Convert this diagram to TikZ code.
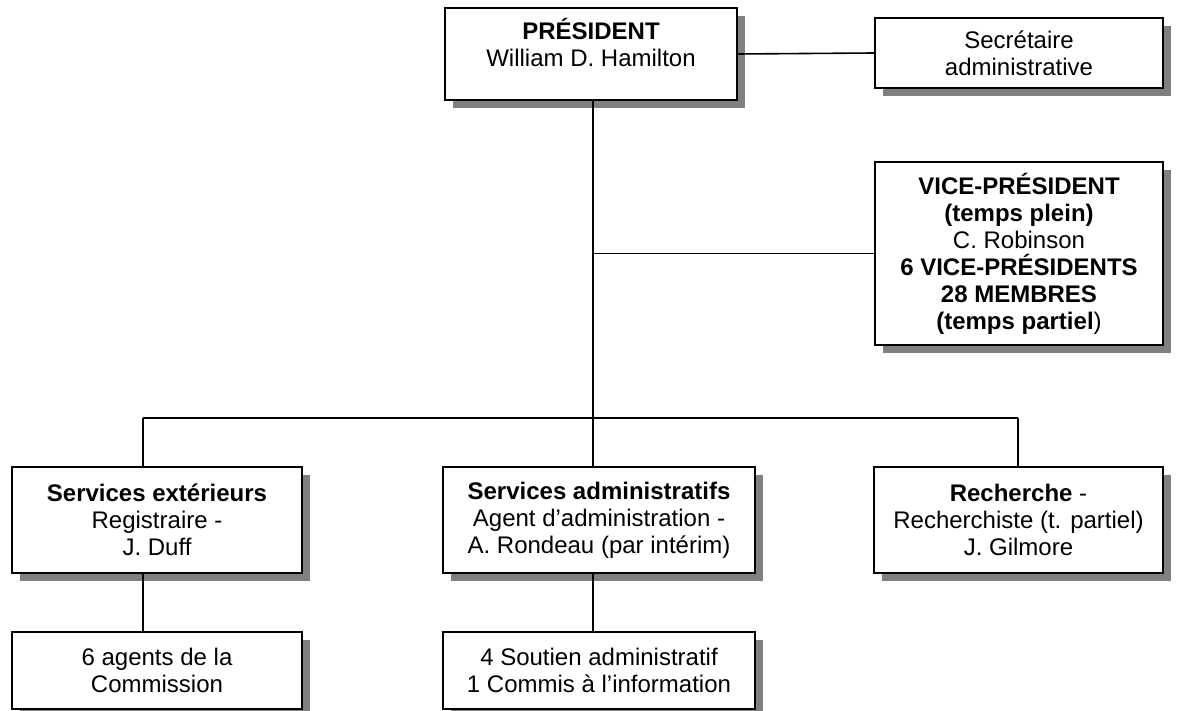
\documentclass[tikz,border=0pt]{standalone}
\usepackage{fontspec}
\setmainfont{Liberation Sans}
\usetikzlibrary{positioning,shadows}

\tikzset{
  box/.style={draw, line width=2pt, fill=white, align=center, inner sep=0pt,
    font=\fontsize{24}{27}\selectfont,
    drop shadow={shadow xshift=8pt, shadow yshift=-8pt, fill=gray, opacity=1}},
  link/.style={line width=1.6pt}
}

\begin{document}
\begin{tikzpicture}[x=1pt, y=-1pt]
      \useasboundingbox (0,0) rectangle (1196,711);

      \node[box, minimum width=292pt, minimum height=92pt] (pres) at (591,54)
        {\textbf{PRÉSIDENT}\\William D. Hamilton\\[-12pt]\strut};
      \node[box, minimum width=288pt, minimum height=70pt] (sec) at (1019,53)
        {Secrétaire\\administrative};
      \node[box, minimum width=288pt, minimum height=183pt] (vp) at (1019,253.5)
        {\textbf{VICE-PRÉSIDENT}\\\textbf{(temps plein)}\\C. Robinson\\
         \textbf{6 VICE-PRÉSIDENTS}\\\textbf{28 MEMBRES}\\\textbf{(temps partiel})};

      \node[box, minimum width=290pt, minimum height=106pt] (ext) at (157,520)
        {\textbf{Services extérieurs}\\Registraire -\\J. Duff};
      \node[box, minimum width=312pt, minimum height=106pt] (adm) at (599,520)
        {\textbf{Services administratifs}\\Agent d’administration -\\A. Rondeau (par intérim)};
      \node[box, minimum width=289pt, minimum height=106pt] (rech) at (1018.5,520)
        {\textbf{Recherche} -\\Recherchiste (t. partiel)\\J. Gilmore};

      \node[box, minimum width=290pt, minimum height=77pt, below=57pt of ext] (agents)
        {6 agents de la\\Commission};
      \node[box, minimum width=312pt, minimum height=77pt, below=57pt of adm] (soutien)
        {4 Soutien administratif\\1 Commis à l’information};

      \coordinate (trunk) at (593,418);
      \coordinate (busw) at (143,418);
      \coordinate (buse) at (1018,418);

      \draw[link] (pres.east) -- (sec.west);
      \draw[link] (pres.south -| trunk) -- (trunk);
      \draw[link] (trunk |- vp.west) -- (vp.west);
      \draw[link] (busw) -- (buse);
      \draw[link] (busw) -- (busw |- ext.north);
      \draw[link] (trunk) -- (trunk |- adm.north);
      \draw[link] (buse) -- (buse |- rech.north);
      \draw[link] (ext.south -| busw) -- (agents.north -| busw);
      \draw[link] (adm.south -| trunk) -- (soutien.north -| trunk);
\end{tikzpicture}
\end{document}
